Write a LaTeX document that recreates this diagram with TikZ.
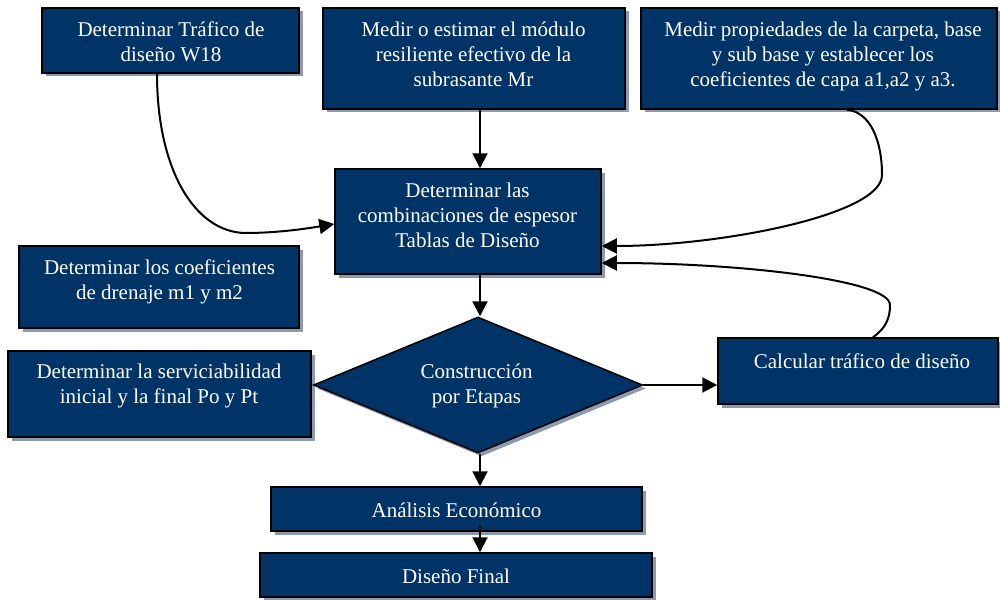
\documentclass[tikz,border=0pt]{standalone}
\usepackage{fontspec}
\setmainfont{Liberation Serif}
\usetikzlibrary{shapes.geometric,shadows,arrows.meta}
\definecolor{navy}{HTML}{003366}
\definecolor{shadowc}{HTML}{8D99AE}
\tikzset{
  blockbox/.style={draw=black, line width=1.5pt, fill=navy, inner sep=0pt,
    drop shadow={shadow xshift=3.5pt, shadow yshift=-3.5pt, fill=shadowc, opacity=1}},
  boxtext/.style={text=white, inner sep=0pt, align=center,
    font=\fontsize{21}{25}\selectfont,
    execute at begin node=\strut, execute at end node=\strut},
  link/.style={draw=black, line width=2pt, -{Triangle[length=15pt,width=15pt]}},
}
\begin{document}
\begin{tikzpicture}[x=1pt,y=-1pt]
\useasboundingbox (0,0) rectangle (1000,599);

% process boxes
\node[blockbox, minimum width=257pt, minimum height=65pt]  (b1)   at (170.5,40.5) {};
\node[blockbox, minimum width=302pt, minimum height=101pt] (b2)   at (474,58.5) {};
\node[blockbox, minimum width=356pt, minimum height=101pt] (b3)   at (819,58.5) {};
\node[blockbox, minimum width=266pt, minimum height=105pt] (tab)  at (468,221.5) {};
\node[blockbox, minimum width=280pt, minimum height=82pt]  (dren) at (159,287) {};
\node[blockbox, minimum width=303pt, minimum height=86pt]  (serv) at (159.5,394) {};
\node[blockbox, diamond, minimum width=329pt, minimum height=136pt] (dec) at (478,385) {};
\node[blockbox, minimum width=280pt, minimum height=66pt]  (calc) at (858,371) {};
\node[blockbox, minimum width=371pt, minimum height=44pt]  (an)   at (456.5,509) {};
\node[blockbox, minimum width=392pt, minimum height=44pt]  (fin)  at (456,575) {};

% box texts
\node[boxtext] (t1)   at (171,45.5)   {Determinar Tráfico de\\diseño W18};
\node[boxtext] (t2)   at (473.5,58)   {Medir o estimar el módulo\\resiliente efectivo de la\\subrasante Mr};
\node[boxtext] (t3)   at (823,58)     {Medir propiedades de la carpeta, base\\y sub base y establecer los\\coeficientes de capa a1,a2 y a3.};
\node[boxtext] (ttab) at (467.5,219)  {Determinar las\\combinaciones de espesor\\Tablas de Diseño};
\node[boxtext] (tdr)  at (159.5,283.5){Determinar los coeficientes\\de drenaje m1 y m2};
\node[boxtext] (tsv)  at (159,387.5)  {Determinar la serviciabilidad\\inicial y la final Po y Pt};
\node[boxtext] (tdec) at (476.5,387.5){Construcción\\por Etapas};
\node[boxtext] (tcal) at (862,363)    {Calcular tráfico de diseño};
\node[boxtext] (tan)  at (456.5,512)  {Análisis Económico};
\node[boxtext] (tfin) at (456,578)    {Diseño Final};

% connector anchors
\coordinate (col) at (480,0);
\coordinate (anin) at ([yshift=6pt]an.south -| col);
\coordinate (s1) at ([xshift=-13.5pt]b1.south);
\coordinate (e1) at ([yshift=-2.5pt]tab.west);
\coordinate (s3) at ([xshift=28pt]b3.south);
\coordinate (e3) at ([yshift=-24.5pt]tab.east);
\coordinate (s4) at ([xshift=15pt]calc.north);
\coordinate (e4) at ([yshift=-41.5pt]tab.east);

% straight connectors
\draw[link] (b2.south -| col) -- (tab.north -| col);
\draw[link] (tab.south -| col) -- (dec.north -| col);
\draw[link] (dec.south -| col) -- (an.north -| col);
\draw[link] (anin) -- (fin.north -| col);
\draw[link] (dec.east) -- (calc.west |- dec.east);

% curved connectors
\draw[link] (s1) .. controls (157,170) and (195,232) .. (245,233)
                 .. controls (280,233) and (310,228) .. (e1);
\draw[link] (s3) .. controls (870,112) and (882,140) .. (882,175)
                 .. controls (882,215) and (720,246) .. (e3);
\draw[link] (s4) .. controls (886,328) and (890,318) .. (890,305)
                 .. controls (890,280) and (740,263) .. (e4);
\end{tikzpicture}
\end{document}
